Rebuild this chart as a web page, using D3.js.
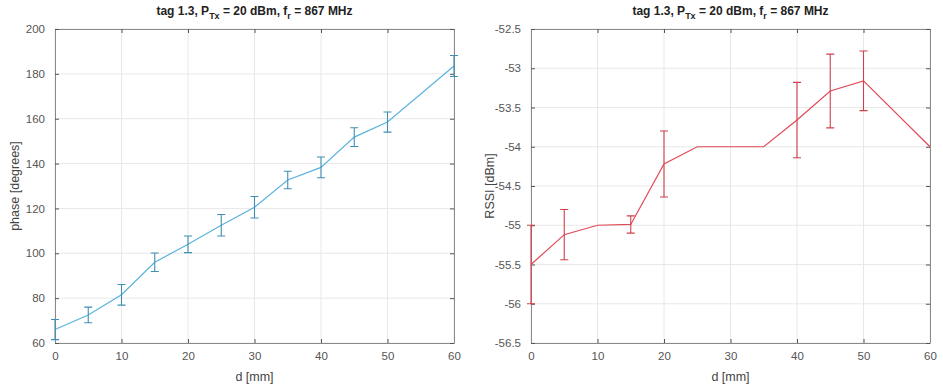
<!DOCTYPE html>
<html>
<head>
<meta charset="utf-8">
<script src="https://cdn.jsdelivr.net/npm/d3@7"></script>
<style>
  body { margin: 0; background: #fff; }
  svg text { font-family: "Liberation Sans", Arial, sans-serif; }
</style>
</head>
<body>
<div id="chart"></div>
<script>
// distance steps (mm)
const dist = [0, 5, 10, 15, 20, 25, 30, 35, 40, 45, 50, 60];
// phase mean and std (degrees)
const phase = [66, 72.5, 81.5, 96, 104, 112.5, 120.5, 132.7, 138.3, 151.8, 158.5, 183.5];
const phaseErr = [4.5, 3.5, 4.6, 4.1, 3.7, 4.8, 4.8, 3.9, 4.6, 4.2, 4.5, 4.7];
// RSSI mean and std (dBm)
const rssi = [-55.5, -55.12, -55, -54.99, -54.22, -54, -54, -54, -53.66, -53.29, -53.16, -54];
const rssiErr = [0.5, 0.32, 0, 0.11, 0.42, 0, 0, 0, 0.48, 0.47, 0.38, 0];

const xTicks = [0, 10, 20, 30, 40, 50, 60];
const phaseTicks = [60, 80, 100, 120, 140, 160, 180, 200];
const rssiTicks = [-52.5, -53, -53.5, -54, -54.5, -55, -55.5, -56, -56.5];

const W = 943, H = 389;
const svg = d3.select("#chart").append("svg")
  .attr("width", W)
  .attr("height", H);

function panel(opts) {
  const left = opts.left, right = opts.right, top = 29, bottom = 343;
  const x = d3.scaleLinear().domain([0, 60]).range([left, right]);
  const y = d3.scaleLinear().domain(opts.domain).range([bottom, top]);
  const g = svg.append("g");

  // grid
  g.append("g").selectAll("line").data(xTicks).join("line")
    .attr("x1", d => x(d)).attr("x2", d => x(d))
    .attr("y1", top).attr("y2", bottom)
    .attr("stroke", "#e8e8e8").attr("stroke-width", 1);
  g.append("g").selectAll("line").data(opts.ticks).join("line")
    .attr("y1", d => y(d)).attr("y2", d => y(d))
    .attr("x1", left).attr("x2", right)
    .attr("stroke", "#e8e8e8").attr("stroke-width", 1);

  // axes, ticks pointing inward on all sides
  const tk = 4;
  const axB = d3.axisBottom(x).tickValues(xTicks).tickSizeInner(-tk).tickSizeOuter(0).tickPadding(9);
  const axT = d3.axisTop(x).tickValues(xTicks).tickSizeInner(-tk).tickSizeOuter(0).tickFormat("");
  const axL = d3.axisLeft(y).tickValues(opts.ticks).tickSizeInner(-tk).tickSizeOuter(0).tickPadding(10)
    .tickFormat(d => String(d));
  const axR = d3.axisRight(y).tickValues(opts.ticks).tickSizeInner(-tk).tickSizeOuter(0).tickFormat("");

  const style = sel => {
    sel.select(".domain").attr("stroke", "#8a8a8a");
    sel.selectAll(".tick line").attr("stroke", "#555");
    sel.selectAll("text").attr("fill", "#555").attr("font-size", 11.5);
  };
  g.append("g").attr("transform", `translate(0,${bottom})`).call(axB).call(style);
  g.append("g").attr("transform", `translate(0,${top})`).call(axT).call(style);
  g.append("g").attr("transform", `translate(${left},0)`).call(axL).call(style);
  g.append("g").attr("transform", `translate(${right},0)`).call(axR).call(style);

  // mean line
  const pts = dist.map((d, i) => ({ d: d, v: opts.vals[i], e: opts.errs[i] }));
  g.append("path").datum(pts)
    .attr("fill", "none")
    .style("stroke", opts.color)
    .style("stroke-width", "1.2px")
    .attr("d", d3.line().x(p => x(p.d)).y(p => y(p.v)));

  // error bars
  const cap = 4;
  const bars = g.append("g").selectAll("path").data(pts.filter(p => p.e > 0)).join("path")
    .attr("fill", "none")
    .style("stroke", opts.barColor)
    .style("stroke-width", "1.1px")
    .attr("d", p => {
      const cx = x(p.d), y0 = y(p.v - p.e), y1 = y(p.v + p.e);
      return `M${cx},${y0}V${y1}M${cx - cap},${y0}H${cx + cap}M${cx - cap},${y1}H${cx + cap}`;
    });

  // title with subscripts
  const t = g.append("text")
    .attr("x", (left + right) / 2).attr("y", 15)
    .attr("text-anchor", "middle")
    .attr("font-size", 12).attr("font-weight", "bold").attr("fill", "#222");
  t.append("tspan").text("tag 1.3, P");
  t.append("tspan").attr("font-size", 9).attr("dy", 4).text("Tx");
  t.append("tspan").attr("dy", -4).text(" = 20 dBm, f");
  t.append("tspan").attr("font-size", 9).attr("dy", 4).text("r");
  t.append("tspan").attr("dy", -4).text(" = 867 MHz");

  // axis labels
  g.append("text")
    .attr("x", (left + right) / 2).attr("y", 381)
    .attr("text-anchor", "middle").attr("font-size", 12.5).attr("fill", "#444")
    .text("d [mm]");
  g.append("text")
    .attr("transform", `translate(${opts.ylabX},${(top + bottom) / 2}) rotate(-90)`)
    .attr("text-anchor", "middle").attr("font-size", 12.5).attr("fill", "#444")
    .text(opts.ylabel);
}

panel({
  left: 55, right: 454, domain: [60, 200], ticks: phaseTicks,
  vals: phase, errs: phaseErr, color: "#5ab3dd", barColor: "#3f8fb4",
  ylabel: "phase [degrees]", ylabX: 19
});
panel({
  left: 531, right: 930, domain: [-56.5, -52.5], ticks: rssiTicks,
  vals: rssi, errs: rssiErr, color: "#e04a55", barColor: "#d0404a",
  ylabel: "RSSI [dBm]", ylabX: 494
});
</script>
</body>
</html>
